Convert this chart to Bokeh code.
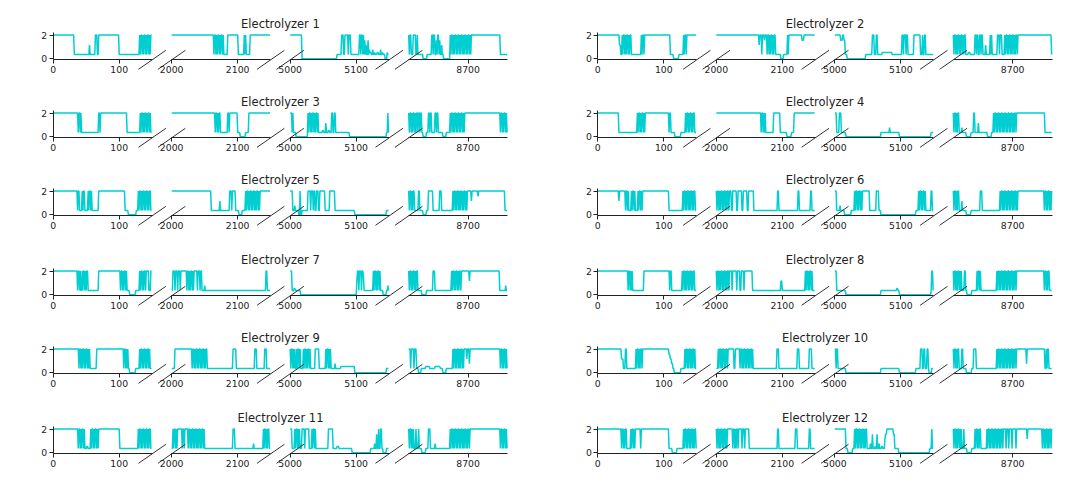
from bokeh.plotting import figure
from bokeh.models import Range1d, LinearAxis, FixedTicker
from bokeh.layouts import row, column
from bokeh.core.properties import value
from bokeh.embed import file_html
from bokeh.resources import INLINE

# ---------------- data ----------------
SEGMENT_STARTS = [0, 2000, 5000, 8610]
SEGMENT_HOURS = 150
X_TICKS = [[0, 100], [2000, 2100], [5000, 5100], [8700]]
Y_TICKS = [0, 2]
# run codes: H=full load, L=minimum load, Z=off, a/b/c/d intermediate,
# X=rapid switching between full and minimum load
LEVELS = {"H": 2.05, "L": 0.37, "Z": 0.0, "a": 0.55, "b": 0.8, "c": 1.2, "d": 1.6}
SWITCH_PATTERN = ["H", "L", "H", "H", "L"]

TITLES = ["Electrolyzer 1", "Electrolyzer 2", "Electrolyzer 3", "Electrolyzer 4",
          "Electrolyzer 5", "Electrolyzer 6", "Electrolyzer 7", "Electrolyzer 8",
          "Electrolyzer 9", "Electrolyzer 10", "Electrolyzer 11", "Electrolyzer 12"]

E1 = ["H32 L23 c1 L8 H3 L2 H31 L31 X19",
      "H63 X16 L6 H16 L9 H1 L1 H1 L6 H31",
      "H18 Z53 L7 H3 L2 H5 L1 H3 L13 H2 L1 H2 L1 H1 L1 d1 L1 c1 L2 d1 L1 b1 a2 L2 b1 L2 a1 L3 a2 L3 b1 L2 a1 L3 Z3 a1 L2",
      "X5 L2 H4 L2 H1 L3 L5 Z6 L7 H2 L1 H2 L2 d1 L1 H2 L1 d1 L2 c1 L2 Z10 X33 H43 L11"]
E2 = ["H33 c2 L2 X15 L14 X6 H38 L5 Z8 L7 X5 H15",
      "H65 c1 H3 L1 H3 d1 H2 X14 L8 Z4 L6 X4 H18 d3 H17",
      "H9 d3 H2 d2 L3 Z28 L10 H3 L3 H2 L7 a15 L15 H2 L1 H3 L1 H2 L9 H10 L3 H1 L2 H2 L12",
      "X19 L4 a3 L7 H2 L1 H2 L2 H2 L1 H2 L4 c1 L6 H1 L1 H1 L8 H3 L1 H3 L2 L2 X20 H51 L1"]
E3 = ["H37 X6 L26 H2 L1 H40 L20 X16 L2",
      "H65 X10 L10 H2 L1 H12 L4 Z8 L5 H33",
      "H3 L1 H1 L4 Z18 X17 L5 a2 L3 c1 L3 a2 L3 H2 L2 H2 L9 L12 Z56 L2 H1 L1",
      "X15 H2 L1 H2 L2 Z5 L3 H2 L1 H2 L5 H2 L1 H2 L7 Z5 L6 X22 H53 X12"]
E4 = ["H32 L28 X13 H34 X4 L6 Z9 L7 X15 L2",
      "H67 X8 L12 H10 L10 Z7 L4 H32",
      "H3 L4 H3 L7 Z53 L13 b1 L14 Z48 L4",
      "X10 L3 b1 L4 L2 Z7 L4 H2 L5 c1 L13 Z6 L3 X35 H43 L11"]
E5 = ["H36 X5 L3 X5 L4 X6 L10 H40 L5 Z12 L3 X20 L1",
      "H60 L13 c1 L14 H3 L1 H5 L5 Z5 L5 X22 H16",
      "H4 L3 b1 L5 Z2 H1 Z2 L9 H4 L1 H3 L1 H2 L2 H3 L2 H8 L7 H8 L30 Z48 L4",
      "X10 L5 H2 L3 L2 Z5 L3 H7 L10 H3 L17 X23 H5 c1 H9 d1 H40 L4"]
E6 = ["H32 c1 H8 X6 L4 X6 L4 X8 H39 L21 X19 L2",
      "X20 H3 L2 H6 L2 H6 L2 H6 L2 H8 L36 H2 L29 H2 L17 H2 L5",
      "H3 L5 b1 L6 Z10 L5 X12 H11 L10 H4 L3 Z53 L4 X11 L8 H2 L2",
      "X10 L3 c1 L6 Z7 L14 H3 L27 X28 H38 X13"]
E7 = ["H36 X6 L2 X10 L15 H32 X12 L3 Z9 L6 X7 H2 L1 H4 L3 H2",
      "L2 H3 L1 H3 L1 H3 L1 H8 X14 H3 L1 H3 L1 H2 L4 b1 L4 L88 H2 L5",
      "H3 L3 a2 L8 Z85 c1 H2 L1 H3 L1 H2 d1 L14 X12 L3 Z5 L2 b1 L1",
      "X15 L5 Z7 L10 H3 L25 X15 H12 c1 H45 L9 b1 L2"]
E8 = ["H45 X8 L17 H38 X5 L15 X20 L2",
      "X20 H4 L1 H6 L1 H4 L2 H4 L1 H12 L43 c2 L35 X11 L4",
      "H3 L14 Z53 L24 a2 L2 Z48 L1 H2 L1",
      "X13 L4 H2 L2 Z7 L8 X7 L23 X30 H41 X10 L3"]
E9 = ["H38 X18 L10 H40 X8 L2 Z9 L6 X17 L2",
      "L5 H25 X25 L38 H5 L28 H3 L12 H3 L6",
      "X8 L2 X6 L4 X12 L6 H6 L10 X8 L6 b1 L8 a21 Z48 L4",
      "H3 L1 H4 L1 H3 L3 Z4 L7 a6 L8 a8 L4 Z5 L10 X18 H3 c1 H3 b1 H5 H40 X12"]
E10 = ["H36 c3 L3 H2 L2 L12 X10 H40 d2 c2 b2 L2 Z10 L6 X16 L2",
       "L3 X16 H8 L2 H6 X22 L35 H3 L28 H3 L15 H4 L5",
       "H2 L1 H2 L12 Z53 L28 Z25 L7 H3 L2 H2 L3 H2 L1 Z4 L3",
       "X10 L3 H2 L5 Z8 L3 H4 L31 X30 H15 b1 H27 L2 X4 L5"]
E11 = ["H37 X11 L3 a2 L4 X12 H32 L28 X20 L1",
       "L2 X8 H5 X6 H3 X26 L43 H3 L28 b1 L14 X9 L2",
       "H3 L4 X8 L3 H4 L1 H6 L4 X6 L19 H7 L6 a3 L20 Z28 L6 b1 L2 d1 L2 H1 L2 H2 L2 Z5 L4",
       "X8 L3 H1 L3 H1 L4 Z6 L4 H3 L7 b1 L22 X30 H45 X12"]
E12 = ["H35 X10 L5 X9 H6 L1 H42 L5 Z7 L10 X19 L1",
       "X19 H5 X10 H5 L1 H3 L1 H6 L5 L38 H2 L25 H3 L18 H2 L7",
       "H17 L3 Z7 L3 X20 L4 b1 L2 d1 L3 a1 L2 d1 L2 b1 L3 a2 L3 c1 d2 H10 d2 L6 Z47 L3 H1 L2",
       "X13 L3 H1 L4 Z7 L5 X10 L8 X25 H4 L1 H3 L1 H4 L1 H5 L1 H6 H10 c1 H21 X16"]

SERIES = [E1, E2, E3, E4, E5, E6, E7, E8, E9, E10, E11, E12]

# ---------------- layout / style ----------------
LINE_COLOR = "#00CED1"
INK = "#222222"
FONT = "DejaVu Sans"
PX_PER_HOUR = 0.66
PX_PER_UNIT = 11.6
SEG_GAP_PX = 19.5
SPINE_Y = -0.08
AXIS_TOP = 2.3
COL_WIDTHS = [548, 524]
COL_AXES_OFFSET = [52.7, 49.3]
ROW_HEIGHTS = [86, 78, 80, 78, 80, 76]
ROW_SPINE_FROM_TOP = [59.3, 51.3, 51.3, 51.3, 51.3, 51.3]
TITLE_ABOVE_SPINE_PX = 35.6
BREAK_HALF_DX_PX = 13.7
BREAK_HALF_DY_PX = 9.5


def expand(runs):
    ys = []
    for tok in runs.split():
        code, n = tok[0], int(tok[1:])
        if code == "X":
            ys.extend(LEVELS[SWITCH_PATTERN[i % len(SWITCH_PATTERN)]] for i in range(n))
        else:
            ys.extend([LEVELS[code]] * n)
    return ys[:SEGMENT_HOURS]


def style_axis(ax):
    ax.axis_line_color = INK
    ax.axis_line_width = 1
    ax.major_tick_line_color = INK
    ax.major_tick_out = 4
    ax.major_tick_in = 0
    ax.minor_tick_out = 0
    ax.minor_tick_in = 0
    ax.major_label_standoff = 2
    ax.major_label_text_font = FONT
    ax.major_label_text_font_size = "9.3px"
    ax.major_label_text_color = INK


def build_panel(title, runs, width, height, axes_off, spine_from_top):
    seg_px = SEGMENT_HOURS * PX_PER_HOUR
    pitch = seg_px + SEG_GAP_PX
    span_px = 3 * pitch + seg_px
    y_top = SPINE_Y + spine_from_top / PX_PER_UNIT
    y_bot = SPINE_Y - (height - spine_from_top) / PX_PER_UNIT
    p = figure(width=width, height=height, output_backend="svg", toolbar_location=None,
               x_axis_type=None, y_axis_type=None,
               x_range=Range1d(-axes_off / span_px, (width - axes_off) / span_px),
               y_range=Range1d(y_bot, y_top),
               min_border_left=0, min_border_right=0, min_border_top=0, min_border_bottom=0,
               outline_line_color=None, background_fill_color="white",
               border_fill_color="white")
    extra = {}
    for k, a in enumerate(SEGMENT_STARTS):
        start = a - (axes_off + k * pitch) / PX_PER_HOUR
        extra[f"seg{k}"] = Range1d(start, start + width / PX_PER_HOUR)
    p.extra_x_ranges = extra

    dx = BREAK_HALF_DX_PX / PX_PER_HOUR
    dy = BREAK_HALF_DY_PX / PX_PER_UNIT
    for k, a in enumerate(SEGMENT_STARTS):
        name = f"seg{k}"
        ys = expand(runs[k])
        xs = [a + i for i in range(len(ys))]
        p.line(xs, ys, x_range_name=name, line_color=LINE_COLOR, line_width=1.5)

        ax = LinearAxis(x_range_name=name, fixed_location=SPINE_Y,
                        bounds=(a, a + SEGMENT_HOURS),
                        ticker=FixedTicker(ticks=X_TICKS[k]))
        style_axis(ax)
        p.add_layout(ax, "below")

        edges = []
        if k > 0:
            edges.append(a)
        if k < len(SEGMENT_STARTS) - 1:
            edges.append(a + SEGMENT_HOURS)
        p.segment(x0=[e - dx for e in edges], y0=[SPINE_Y - dy] * len(edges),
                  x1=[e + dx for e in edges], y1=[SPINE_Y + dy] * len(edges),
                  x_range_name=name, line_color="#333333", line_width=1)

    yax = LinearAxis(fixed_location=0, bounds=(SPINE_Y, AXIS_TOP),
                     ticker=FixedTicker(ticks=Y_TICKS))
    style_axis(yax)
    p.add_layout(yax, "left")

    p.text(x=[0.5], y=[SPINE_Y + TITLE_ABOVE_SPINE_PX / PX_PER_UNIT], text=[title],
           text_align="center", text_baseline="middle",
           text_font=value(FONT), text_font_size="11.5px", text_color=INK)
    return p


rows = []
for r, h in enumerate(ROW_HEIGHTS):
    panels = []
    for c in range(2):
        i = 2 * r + c
        panels.append(build_panel(TITLES[i], SERIES[i], COL_WIDTHS[c], h,
                                  COL_AXES_OFFSET[c], ROW_SPINE_FROM_TOP[r]))
    rows.append(row(*panels))

layout = column(*rows)
open("out.html", "w").write(file_html(layout, INLINE))
